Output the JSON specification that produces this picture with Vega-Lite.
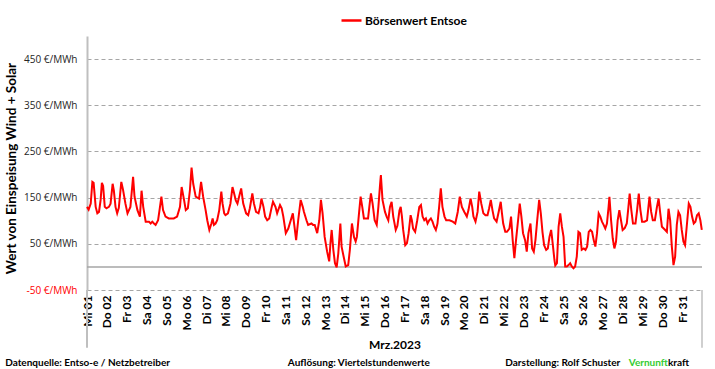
{
"$schema": "https://vega.github.io/schema/vega-lite/v6.json",
"width": 615, "height": 254,
"autosize": "none",
"padding": {"left": 87, "top": 36, "right": 13, "bottom": 79},
"background": "white",
"config": {"view": {"stroke": null}, "font": "Lato", "axisY": {"grid": true, "gridColor": "#a6a6a6", "gridDash": [4, 3], "gridWidth": 1}},
"datasets": {"prices": [
{"t":"2023-03-01T00:00","v":130},{"t":"2023-03-01T02:00","v":124},{"t":"2023-03-01T04:30","v":137},{"t":"2023-03-01T06:30","v":184},{"t":"2023-03-01T08:00","v":182},{"t":"2023-03-01T10:30","v":130},{"t":"2023-03-01T12:30","v":116},{"t":"2023-03-01T14:30","v":119},{"t":"2023-03-01T16:30","v":145},{"t":"2023-03-01T18:00","v":182},{"t":"2023-03-01T19:30","v":175},{"t":"2023-03-01T21:30","v":130},{"t":"2023-03-01T23:30","v":127},
{"t":"2023-03-02T02:30","v":130},{"t":"2023-03-02T04:30","v":137},{"t":"2023-03-02T07:00","v":180},{"t":"2023-03-02T08:30","v":165},{"t":"2023-03-02T10:30","v":130},{"t":"2023-03-02T12:30","v":116},{"t":"2023-03-02T14:30","v":128},{"t":"2023-03-02T17:30","v":184},{"t":"2023-03-02T19:30","v":168},{"t":"2023-03-02T22:30","v":137},
{"t":"2023-03-03T01:00","v":116},{"t":"2023-03-03T04:30","v":130},{"t":"2023-03-03T07:45","v":195},{"t":"2023-03-03T09:30","v":152},{"t":"2023-03-03T13:00","v":123},{"t":"2023-03-03T16:00","v":109},{"t":"2023-03-03T18:00","v":165},{"t":"2023-03-03T20:00","v":130},{"t":"2023-03-03T23:00","v":98},
{"t":"2023-03-04T03:00","v":98},{"t":"2023-03-04T05:00","v":94},{"t":"2023-03-04T07:00","v":98},{"t":"2023-03-04T09:00","v":94},{"t":"2023-03-04T11:00","v":91},{"t":"2023-03-04T14:00","v":101},{"t":"2023-03-04T16:00","v":126},{"t":"2023-03-04T18:00","v":152},{"t":"2023-03-04T20:00","v":123},{"t":"2023-03-04T23:00","v":109},
{"t":"2023-03-05T03:00","v":105},{"t":"2023-03-05T09:00","v":105},{"t":"2023-03-05T13:00","v":109},{"t":"2023-03-05T16:30","v":130},{"t":"2023-03-05T18:30","v":173},{"t":"2023-03-05T21:30","v":144},{"t":"2023-03-05T23:30","v":123},
{"t":"2023-03-06T02:00","v":127},{"t":"2023-03-06T04:30","v":166},{"t":"2023-03-06T06:30","v":215},{"t":"2023-03-06T08:30","v":180},{"t":"2023-03-06T11:30","v":152},{"t":"2023-03-06T15:30","v":148},{"t":"2023-03-06T18:00","v":184},{"t":"2023-03-06T20:30","v":152},{"t":"2023-03-06T23:30","v":123},
{"t":"2023-03-07T01:30","v":101},{"t":"2023-03-07T04:00","v":80},{"t":"2023-03-07T06:30","v":94},{"t":"2023-03-07T08:00","v":105},{"t":"2023-03-07T09:30","v":91},{"t":"2023-03-07T11:30","v":94},{"t":"2023-03-07T13:30","v":101},{"t":"2023-03-07T16:00","v":123},{"t":"2023-03-07T18:30","v":163},{"t":"2023-03-07T20:00","v":137},{"t":"2023-03-07T22:00","v":116},{"t":"2023-03-07T23:30","v":112},
{"t":"2023-03-08T02:30","v":116},{"t":"2023-03-08T05:30","v":137},{"t":"2023-03-08T08:00","v":173},{"t":"2023-03-08T10:00","v":159},{"t":"2023-03-08T12:00","v":144},{"t":"2023-03-08T14:00","v":137},{"t":"2023-03-08T16:00","v":152},{"t":"2023-03-08T18:30","v":170},{"t":"2023-03-08T21:00","v":137},
{"t":"2023-03-09T00:30","v":116},{"t":"2023-03-09T03:00","v":112},{"t":"2023-03-09T05:00","v":127},{"t":"2023-03-09T08:00","v":159},{"t":"2023-03-09T10:00","v":137},{"t":"2023-03-09T12:30","v":119},{"t":"2023-03-09T15:30","v":116},{"t":"2023-03-09T17:30","v":130},{"t":"2023-03-09T19:00","v":148},{"t":"2023-03-09T21:30","v":130},{"t":"2023-03-09T23:30","v":109},
{"t":"2023-03-10T02:00","v":101},{"t":"2023-03-10T04:30","v":105},{"t":"2023-03-10T07:30","v":130},{"t":"2023-03-10T09:00","v":141},{"t":"2023-03-10T12:00","v":130},{"t":"2023-03-10T14:00","v":116},{"t":"2023-03-10T17:30","v":134},{"t":"2023-03-10T19:30","v":127},{"t":"2023-03-10T21:30","v":109},
{"t":"2023-03-11T00:30","v":73},{"t":"2023-03-11T03:30","v":83},{"t":"2023-03-11T06:30","v":101},{"t":"2023-03-11T09:00","v":116},{"t":"2023-03-11T11:00","v":87},{"t":"2023-03-11T13:00","v":58},{"t":"2023-03-11T15:30","v":101},{"t":"2023-03-11T18:30","v":145},{"t":"2023-03-11T21:00","v":130},{"t":"2023-03-11T22:30","v":119},
{"t":"2023-03-12T01:30","v":101},{"t":"2023-03-12T03:30","v":91},{"t":"2023-03-12T07:30","v":94},{"t":"2023-03-12T09:30","v":91},{"t":"2023-03-12T11:30","v":91},{"t":"2023-03-12T14:30","v":73},{"t":"2023-03-12T17:00","v":101},{"t":"2023-03-12T19:00","v":145},{"t":"2023-03-12T21:00","v":116},{"t":"2023-03-12T23:30","v":65},
{"t":"2023-03-13T02:30","v":33},{"t":"2023-03-13T05:00","v":12},{"t":"2023-03-13T06:30","v":51},{"t":"2023-03-13T08:00","v":80},{"t":"2023-03-13T10:00","v":37},{"t":"2023-03-13T12:00","v":8},{"t":"2023-03-13T14:00","v":-1},{"t":"2023-03-13T16:00","v":29},{"t":"2023-03-13T18:30","v":94},{"t":"2023-03-13T20:00","v":44},{"t":"2023-03-13T22:30","v":22},
{"t":"2023-03-14T01:00","v":1},{"t":"2023-03-14T04:00","v":4},{"t":"2023-03-14T06:00","v":37},{"t":"2023-03-14T08:30","v":94},{"t":"2023-03-14T11:00","v":65},{"t":"2023-03-14T13:00","v":55},{"t":"2023-03-14T14:30","v":65},{"t":"2023-03-14T17:00","v":115},{"t":"2023-03-14T19:00","v":152},{"t":"2023-03-14T21:00","v":130},{"t":"2023-03-14T23:00","v":105},
{"t":"2023-03-15T02:00","v":105},{"t":"2023-03-15T04:00","v":105},{"t":"2023-03-15T06:00","v":137},{"t":"2023-03-15T07:30","v":159},{"t":"2023-03-15T09:30","v":137},{"t":"2023-03-15T12:00","v":101},{"t":"2023-03-15T14:30","v":91},{"t":"2023-03-15T16:30","v":130},{"t":"2023-03-15T18:30","v":177},{"t":"2023-03-15T19:30","v":199},{"t":"2023-03-15T21:30","v":145},
{"t":"2023-03-16T00:30","v":119},{"t":"2023-03-16T02:30","v":109},{"t":"2023-03-16T04:30","v":101},{"t":"2023-03-16T06:30","v":130},{"t":"2023-03-16T08:30","v":141},{"t":"2023-03-16T10:30","v":109},{"t":"2023-03-16T13:30","v":80},{"t":"2023-03-16T15:30","v":89},{"t":"2023-03-16T18:00","v":122},{"t":"2023-03-16T19:30","v":130},{"t":"2023-03-16T21:00","v":109},{"t":"2023-03-16T22:30","v":80},
{"t":"2023-03-17T01:00","v":47},{"t":"2023-03-17T03:00","v":51},{"t":"2023-03-17T05:00","v":72},{"t":"2023-03-17T07:30","v":112},{"t":"2023-03-17T09:00","v":101},{"t":"2023-03-17T10:30","v":83},{"t":"2023-03-17T13:00","v":76},{"t":"2023-03-17T15:30","v":101},{"t":"2023-03-17T18:00","v":130},{"t":"2023-03-17T20:00","v":134},{"t":"2023-03-17T22:00","v":109},
{"t":"2023-03-18T00:00","v":101},{"t":"2023-03-18T02:00","v":105},{"t":"2023-03-18T04:00","v":94},{"t":"2023-03-18T06:00","v":101},{"t":"2023-03-18T08:00","v":105},{"t":"2023-03-18T10:00","v":98},{"t":"2023-03-18T12:00","v":87},{"t":"2023-03-18T14:00","v":80},{"t":"2023-03-18T16:00","v":94},{"t":"2023-03-18T18:00","v":130},{"t":"2023-03-18T20:00","v":170},{"t":"2023-03-18T22:00","v":130},
{"t":"2023-03-19T00:30","v":109},{"t":"2023-03-19T02:30","v":101},{"t":"2023-03-19T06:30","v":101},{"t":"2023-03-19T10:30","v":98},{"t":"2023-03-19T13:30","v":94},{"t":"2023-03-19T16:30","v":119},{"t":"2023-03-19T19:00","v":152},{"t":"2023-03-19T21:30","v":130},
{"t":"2023-03-20T00:30","v":119},{"t":"2023-03-20T03:30","v":109},{"t":"2023-03-20T05:30","v":123},{"t":"2023-03-20T08:00","v":148},{"t":"2023-03-20T10:00","v":130},{"t":"2023-03-20T11:30","v":109},{"t":"2023-03-20T14:00","v":98},{"t":"2023-03-20T16:30","v":119},{"t":"2023-03-20T18:30","v":163},{"t":"2023-03-20T21:00","v":137},{"t":"2023-03-20T23:30","v":116},
{"t":"2023-03-21T02:00","v":112},{"t":"2023-03-21T04:30","v":112},{"t":"2023-03-21T06:30","v":127},{"t":"2023-03-21T08:30","v":145},{"t":"2023-03-21T10:30","v":123},{"t":"2023-03-21T12:30","v":105},{"t":"2023-03-21T15:30","v":98},{"t":"2023-03-21T18:00","v":119},{"t":"2023-03-21T20:30","v":141},{"t":"2023-03-21T22:00","v":116},{"t":"2023-03-21T23:30","v":94},
{"t":"2023-03-22T02:00","v":76},{"t":"2023-03-22T04:00","v":76},{"t":"2023-03-22T07:00","v":83},{"t":"2023-03-22T09:00","v":109},{"t":"2023-03-22T11:00","v":58},{"t":"2023-03-22T13:00","v":19},{"t":"2023-03-22T15:00","v":58},{"t":"2023-03-22T17:30","v":101},{"t":"2023-03-22T19:30","v":137},{"t":"2023-03-22T21:30","v":109},{"t":"2023-03-22T23:30","v":73},
{"t":"2023-03-23T02:00","v":58},{"t":"2023-03-23T04:00","v":33},{"t":"2023-03-23T06:00","v":73},{"t":"2023-03-23T08:30","v":94},{"t":"2023-03-23T10:30","v":40},{"t":"2023-03-23T12:30","v":33},{"t":"2023-03-23T14:30","v":58},{"t":"2023-03-23T16:30","v":98},{"t":"2023-03-23T19:00","v":145},{"t":"2023-03-23T21:00","v":116},{"t":"2023-03-23T23:00","v":76},
{"t":"2023-03-24T01:00","v":47},{"t":"2023-03-24T03:30","v":37},{"t":"2023-03-24T05:30","v":40},{"t":"2023-03-24T07:30","v":65},{"t":"2023-03-24T09:30","v":80},{"t":"2023-03-24T10:30","v":65},{"t":"2023-03-24T12:00","v":40},{"t":"2023-03-24T13:30","v":15},{"t":"2023-03-24T14:30","v":3},{"t":"2023-03-24T16:30","v":8},{"t":"2023-03-24T18:30","v":87},{"t":"2023-03-24T20:30","v":116},{"t":"2023-03-24T22:30","v":87},
{"t":"2023-03-25T00:30","v":65},{"t":"2023-03-25T02:30","v":1},{"t":"2023-03-25T04:30","v":1},{"t":"2023-03-25T06:30","v":4},{"t":"2023-03-25T08:30","v":8},{"t":"2023-03-25T10:30","v":1},{"t":"2023-03-25T12:30","v":-3},{"t":"2023-03-25T14:30","v":1},{"t":"2023-03-25T16:30","v":22},{"t":"2023-03-25T18:30","v":76},{"t":"2023-03-25T20:30","v":73},{"t":"2023-03-25T22:30","v":37},
{"t":"2023-03-26T01:00","v":40},{"t":"2023-03-26T03:00","v":37},{"t":"2023-03-26T05:00","v":44},{"t":"2023-03-26T07:00","v":76},{"t":"2023-03-26T09:00","v":80},{"t":"2023-03-26T11:00","v":76},{"t":"2023-03-26T13:00","v":58},{"t":"2023-03-26T15:00","v":44},{"t":"2023-03-26T17:00","v":73},{"t":"2023-03-26T19:00","v":116},{"t":"2023-03-26T21:00","v":109},{"t":"2023-03-26T23:00","v":98},
{"t":"2023-03-27T01:00","v":91},{"t":"2023-03-27T03:00","v":83},{"t":"2023-03-27T05:00","v":94},{"t":"2023-03-27T07:00","v":130},{"t":"2023-03-27T08:00","v":152},{"t":"2023-03-27T10:00","v":101},{"t":"2023-03-27T12:00","v":62},{"t":"2023-03-27T14:00","v":40},{"t":"2023-03-27T16:00","v":55},{"t":"2023-03-27T18:00","v":101},{"t":"2023-03-27T20:00","v":123},{"t":"2023-03-27T22:00","v":101},
{"t":"2023-03-28T00:00","v":80},{"t":"2023-03-28T02:30","v":84},{"t":"2023-03-28T05:00","v":94},{"t":"2023-03-28T07:00","v":130},{"t":"2023-03-28T08:30","v":159},{"t":"2023-03-28T10:30","v":123},{"t":"2023-03-28T12:30","v":94},{"t":"2023-03-28T15:30","v":94},{"t":"2023-03-28T17:30","v":123},{"t":"2023-03-28T19:30","v":159},{"t":"2023-03-28T21:30","v":123},{"t":"2023-03-28T23:30","v":98},
{"t":"2023-03-29T02:30","v":98},{"t":"2023-03-29T05:30","v":101},{"t":"2023-03-29T08:30","v":152},{"t":"2023-03-29T10:30","v":119},{"t":"2023-03-29T12:30","v":101},{"t":"2023-03-29T15:00","v":101},{"t":"2023-03-29T17:30","v":130},{"t":"2023-03-29T19:30","v":148},{"t":"2023-03-29T21:30","v":116},{"t":"2023-03-29T23:30","v":87},
{"t":"2023-03-30T03:30","v":80},{"t":"2023-03-30T05:30","v":76},{"t":"2023-03-30T07:30","v":126},{"t":"2023-03-30T09:30","v":101},{"t":"2023-03-30T11:30","v":44},{"t":"2023-03-30T13:30","v":4},{"t":"2023-03-30T15:30","v":22},{"t":"2023-03-30T17:30","v":91},{"t":"2023-03-30T19:30","v":119},{"t":"2023-03-30T21:30","v":112},{"t":"2023-03-30T23:30","v":80},
{"t":"2023-03-31T01:30","v":55},{"t":"2023-03-31T03:30","v":47},{"t":"2023-03-31T05:30","v":87},{"t":"2023-03-31T08:00","v":137},{"t":"2023-03-31T10:00","v":130},{"t":"2023-03-31T12:00","v":109},{"t":"2023-03-31T14:00","v":94},{"t":"2023-03-31T16:00","v":98},{"t":"2023-03-31T18:00","v":112},{"t":"2023-03-31T20:00","v":116},{"t":"2023-03-31T22:00","v":101},{"t":"2023-03-31T23:45","v":80}
]},
"layer": [
{"data": {"values": [{}]}, "mark": {"type": "rule", "color": "#a6a6a6", "strokeWidth": 1.5}, "encoding": {"y": {"datum": 0, "type": "quantitative"}}},
{"data": {"values": [{}]}, "mark": {"type": "rule", "color": "#bfbfbf", "strokeWidth": 2}, "encoding": {"x": {"datum": {"year": 2023, "month": 3, "date": 1}, "type": "temporal"}, "y": {"datum": -50, "type": "quantitative"}, "y2": {"datum": -175}}},
{"data": {"values": [{}]}, "mark": {"type": "rule", "color": "#bfbfbf", "strokeWidth": 1.5}, "encoding": {"x": {"datum": {"year": 2023, "month": 4, "date": 1}, "type": "temporal"}, "y": {"datum": -50, "type": "quantitative"}, "y2": {"datum": -175}}},
{"data": {"name": "prices"}, "mark": {"type": "line", "strokeWidth": 2},
 "encoding": {
  "x": {"field": "t", "type": "temporal",
   "scale": {"domain": [{"year": 2023, "month": 3, "date": 1}, {"year": 2023, "month": 4, "date": 1}]},
   "axis": {"title": "Mrz.2023", "tickCount": {"interval": "day", "step": 1},
    "labelExpr": "month(datum.value) == 2 ? ['So','Mo','Di','Mi','Do','Fr','Sa'][day(datum.value)] + ' ' + timeFormat(datum.value, '%d') : ''",
    "labelAngle": -90, "labelAlign": "right", "labelBaseline": "middle", "labelFont": "Lato", "labelFontSize": 12, "labelFontWeight": "bold", "labelColor": "#000000", "labelPadding": 5, "labelOverlap": false, "labelFlush": false,
    "domain": false, "ticks": false, "grid": false,
    "titleFont": "Lato", "titleFontSize": 12, "titleFontWeight": "bold", "titleColor": "#000000", "titlePadding": 10}},
  "y": {"field": "v", "type": "quantitative",
   "scale": {"domain": [-50, 500], "nice": false, "zero": false},
   "axis": {"title": "Wert von Einspeisung Wind + Solar", "values": [-50, 50, 150, 250, 350, 450],
    "labelExpr": "datum.value + ' €/MWh'",
    "labelColor": {"condition": {"test": "datum.value < 0", "value": "#ff0000"}, "value": "#262626"},
    "labelFont": "Open Sans", "labelFontSize": 10, "labelPadding": 10, "ticks": false,
    "domainColor": "#bfbfbf", "domainWidth": 2,
    "grid": true, "gridColor": "#a6a6a6", "gridDash": [4, 3], "gridWidth": 1,
    "titleFont": "Lato", "titleFontSize": 13.5, "titleFontWeight": "bold", "titleColor": "#000000", "titlePadding": 5, "titleY": 132}},
  "color": {"datum": "Börsenwert Entsoe", "scale": {"range": ["#ff0000"]},
   "legend": {"title": null, "orient": "none", "legendX": 253, "legendY": -27, "symbolType": "stroke", "symbolSize": 400, "symbolStrokeWidth": 2.5, "labelFont": "Lato", "labelFontSize": 12, "labelFontWeight": "bold", "labelColor": "#000000", "labelOffset": 2, "padding": 0}}
 }},
{"data": {"values": [{}]}, "mark": {"type": "text", "align": "left", "baseline": "middle", "font": "Lato", "fontSize": 10, "fontWeight": "bold", "color": "#000000"},
 "encoding": {"x": {"datum": {"year": 2023, "month": 2, "date": 24, "hours": 21}, "type": "temporal"}, "y": {"datum": -207, "type": "quantitative"}, "text": {"value": "Datenquelle:  Entso-e  / Netzbetreiber"}}},
{"data": {"values": [{}]}, "mark": {"type": "text", "align": "left", "baseline": "middle", "font": "Lato", "fontSize": 10, "fontWeight": "bold", "color": "#000000"},
 "encoding": {"x": {"datum": {"year": 2023, "month": 3, "date": 11, "hours": 3}, "type": "temporal"}, "y": {"datum": -207, "type": "quantitative"}, "text": {"value": "Auflösung: Viertelstundenwerte"}}},
{"data": {"values": [{}]}, "mark": {"type": "text", "align": "left", "baseline": "middle", "font": "Lato", "fontSize": 10, "fontWeight": "bold", "color": "#000000"},
 "encoding": {"x": {"datum": {"year": 2023, "month": 3, "date": 22, "hours": 2}, "type": "temporal"}, "y": {"datum": -207, "type": "quantitative"}, "text": {"value": "Darstellung:  Rolf Schuster"}}},
{"data": {"values": [{}]}, "mark": {"type": "text", "align": "right", "baseline": "middle", "font": "Lato", "fontSize": 10, "fontWeight": "bold", "color": "#33cc33"},
 "encoding": {"x": {"datum": {"year": 2023, "month": 3, "date": 30, "hours": 6, "minutes": 45}, "type": "temporal"}, "y": {"datum": -207, "type": "quantitative"}, "text": {"value": "Vernunft"}}},
{"data": {"values": [{}]}, "mark": {"type": "text", "align": "left", "baseline": "middle", "font": "Lato", "fontSize": 10, "fontWeight": "bold", "color": "#000000"},
 "encoding": {"x": {"datum": {"year": 2023, "month": 3, "date": 30, "hours": 6, "minutes": 45}, "type": "temporal"}, "y": {"datum": -207, "type": "quantitative"}, "text": {"value": "kraft"}}}
]
}
